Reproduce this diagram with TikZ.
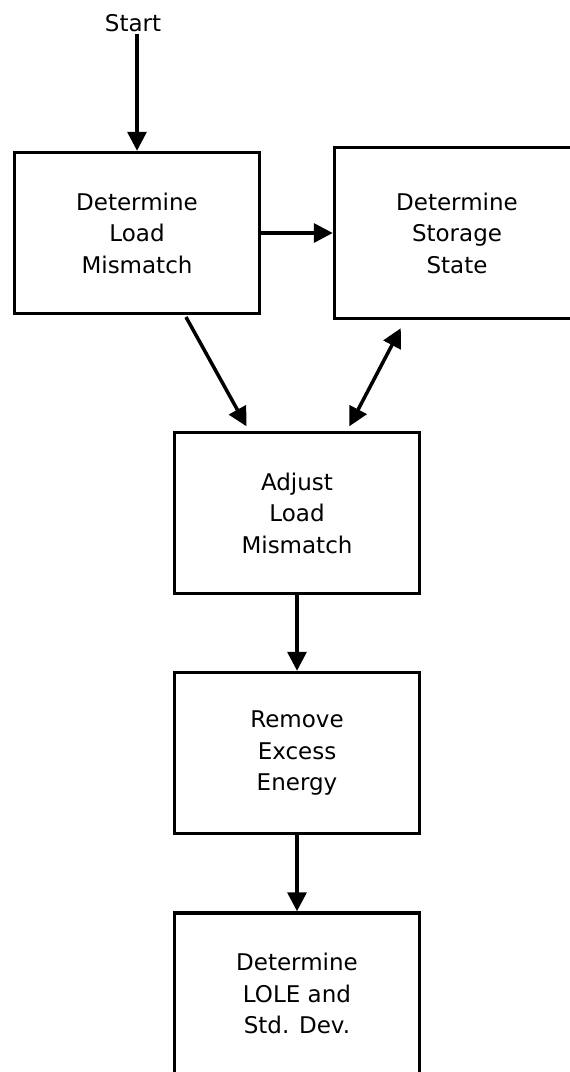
\documentclass[tikz,border=0pt]{standalone}
\usepackage{fontspec}
\setmainfont{DejaVu Sans}
\usetikzlibrary{arrows.meta}
\tikzset{
  stepbox/.style={draw=black, line width=3.5pt, minimum width=245pt, minimum height=161pt,
    inner sep=0pt, align=center, font=\fontsize{23}{31.5}\selectfont},
  conn/.style={line width=3.5pt, -{Triangle[length=19pt,width=19pt]}},
  biconn/.style={line width=3.5pt, {Triangle[length=19pt,width=19pt]}-{Triangle[length=19pt,width=19pt]}},
  lbl/.style={inner sep=0pt, font=\fontsize{23}{31.5}\selectfont}
}
\begin{document}
\begin{tikzpicture}[x=1pt,y=-1pt]
\useasboundingbox (0,0) rectangle (570,1072);
\fill[white] (0,0) rectangle (570,1072);
\node[lbl] (start) at (133,23) {Start};
\coordinate (s0) at (137,34);
\node[stepbox] (b1) at (137,233) {Determine\\Load\\Mismatch};
\node[stepbox, minimum height=171pt] (b2) at (457,233) {Determine\\Storage\\State};
\node[stepbox] (b3) at (297,513) {Adjust\\Load\\Mismatch};
\node[stepbox] (b4) at (297,753) {Remove\\Excess\\Energy};
\node[stepbox] (b5) at (297,993.5) {Determine\\LOLE and\\Std. Dev.};
\draw[conn] (s0) -- (b1.north);
\draw[conn] (b1.east) -- (b2.west);
\draw[conn, shorten <=2pt, shorten >=5pt] ([xshift=48pt]b1.south) -- ([xshift=-48pt]b3.north);
\draw[biconn, shorten <=5pt, shorten >=9pt] ([xshift=50pt]b3.north) -- ([xshift=-52pt]b2.south);
\draw[conn] (b3.south) -- (b4.north);
\draw[conn] (b4.south) -- (b5.north);
\end{tikzpicture}
\end{document}
